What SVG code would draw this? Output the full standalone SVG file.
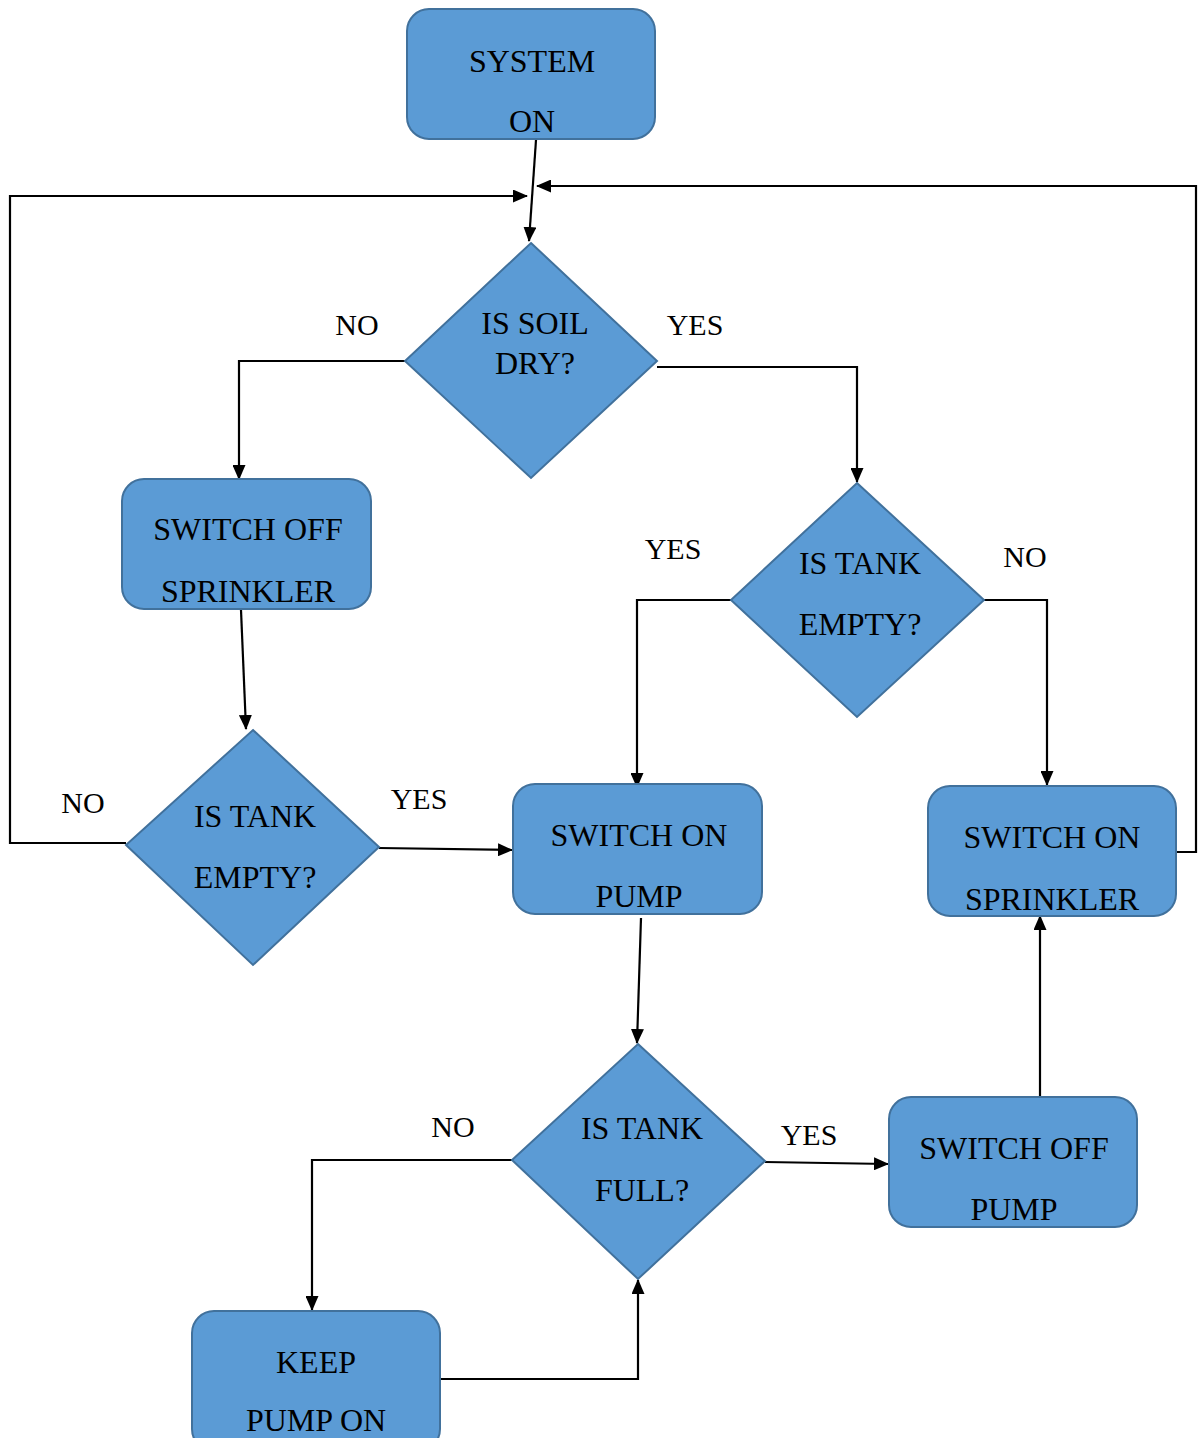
<svg xmlns="http://www.w3.org/2000/svg" width="1198" height="1438" viewBox="0 0 1198 1438">
<defs>
<marker id="ah" markerWidth="15" markerHeight="13" refX="14" refY="6.5" orient="auto" markerUnits="userSpaceOnUse">
<path d="M0,0 L15,6.5 L0,13 z" fill="#000"/>
</marker>
<style>
.box{fill:#5B9BD5;stroke:#41719C;stroke-width:2}
.t{font-family:"Liberation Serif","Times New Roman",serif;font-size:32px;fill:#000;text-anchor:middle}
.l{font-family:"Liberation Serif","Times New Roman",serif;font-size:30px;fill:#000;text-anchor:middle}
.c{fill:none;stroke:#000;stroke-width:2.2;marker-end:url(#ah)}
</style>
</defs>
<rect width="1198" height="1438" fill="#fff"/>
<g id="connectors">
<path class="c" d="M536,140 L529,241"/>
<path class="c" d="M126,843 L10,843 L10,196 L527,196"/>
<path class="c" d="M1176,852 L1196,852 L1196,186 L537,186"/>
<path class="c" d="M405,361 L239,361 L239,479"/>
<path class="c" d="M657,367 L857,367 L857,482"/>
<path class="c" d="M241,610 L246,729"/>
<path class="c" d="M379,848 L512,850"/>
<path class="c" d="M731,600 L637,600 L637,787"/>
<path class="c" d="M984,600 L1047,600 L1047,785"/>
<path class="c" d="M641,918 L637,1043"/>
<path class="c" d="M512,1160 L312,1160 L312,1310"/>
<path class="c" d="M765,1162 L888,1164"/>
<path class="c" d="M1040,1097 L1040,916"/>
<path class="c" d="M440,1379 L638,1379 L638,1280"/>
</g>
<g id="labels">
<text class="l" x="357" y="335">NO</text>
<text class="l" x="695" y="335">YES</text>
<text class="l" x="673" y="559">YES</text>
<text class="l" x="1025" y="567">NO</text>
<text class="l" x="83" y="813">NO</text>
<text class="l" x="419" y="809">YES</text>
<text class="l" x="453" y="1137">NO</text>
<text class="l" x="809" y="1145">YES</text>
</g>
<g id="system-on">
<rect class="box" x="407" y="9" width="248" height="130" rx="22"/>
<text class="t" x="532" y="72">SYSTEM</text>
<text class="t" x="532" y="132">ON</text>
</g>
<g id="is-soil-dry">
<polygon class="box" points="531,243 657,361 531,478 405,361"/>
<text class="t" x="535" y="334">IS SOIL</text>
<text class="t" x="535" y="374">DRY?</text>
</g>
<g id="switch-off-sprinkler">
<rect class="box" x="122" y="479" width="249" height="130" rx="22"/>
<text class="t" x="248" y="540">SWITCH OFF</text>
<text class="t" x="248" y="602">SPRINKLER</text>
</g>
<g id="is-tank-empty-right">
<polygon class="box" points="857,483 984,600 857,717 731,600"/>
<text class="t" x="860" y="574">IS TANK</text>
<text class="t" x="860" y="635">EMPTY?</text>
</g>
<g id="is-tank-empty-left">
<polygon class="box" points="253,730 379,847 253,965 126,845"/>
<text class="t" x="255" y="827">IS TANK</text>
<text class="t" x="255" y="888">EMPTY?</text>
</g>
<g id="switch-on-pump">
<rect class="box" x="513" y="784" width="249" height="130" rx="22"/>
<text class="t" x="639" y="846">SWITCH ON</text>
<text class="t" x="639" y="907">PUMP</text>
</g>
<g id="switch-on-sprinkler">
<rect class="box" x="928" y="786" width="248" height="130" rx="22"/>
<text class="t" x="1052" y="848">SWITCH ON</text>
<text class="t" x="1052" y="910">SPRINKLER</text>
</g>
<g id="is-tank-full">
<polygon class="box" points="638,1044 765,1161 638,1279 512,1160"/>
<text class="t" x="642" y="1139">IS TANK</text>
<text class="t" x="642" y="1201">FULL?</text>
</g>
<g id="switch-off-pump">
<rect class="box" x="889" y="1097" width="248" height="130" rx="22"/>
<text class="t" x="1014" y="1159">SWITCH OFF</text>
<text class="t" x="1014" y="1220">PUMP</text>
</g>
<g id="keep-pump-on">
<rect class="box" x="192" y="1311" width="248" height="140" rx="22"/>
<text class="t" x="316" y="1373">KEEP</text>
<text class="t" x="316" y="1431">PUMP ON</text>
</g>
</svg>
